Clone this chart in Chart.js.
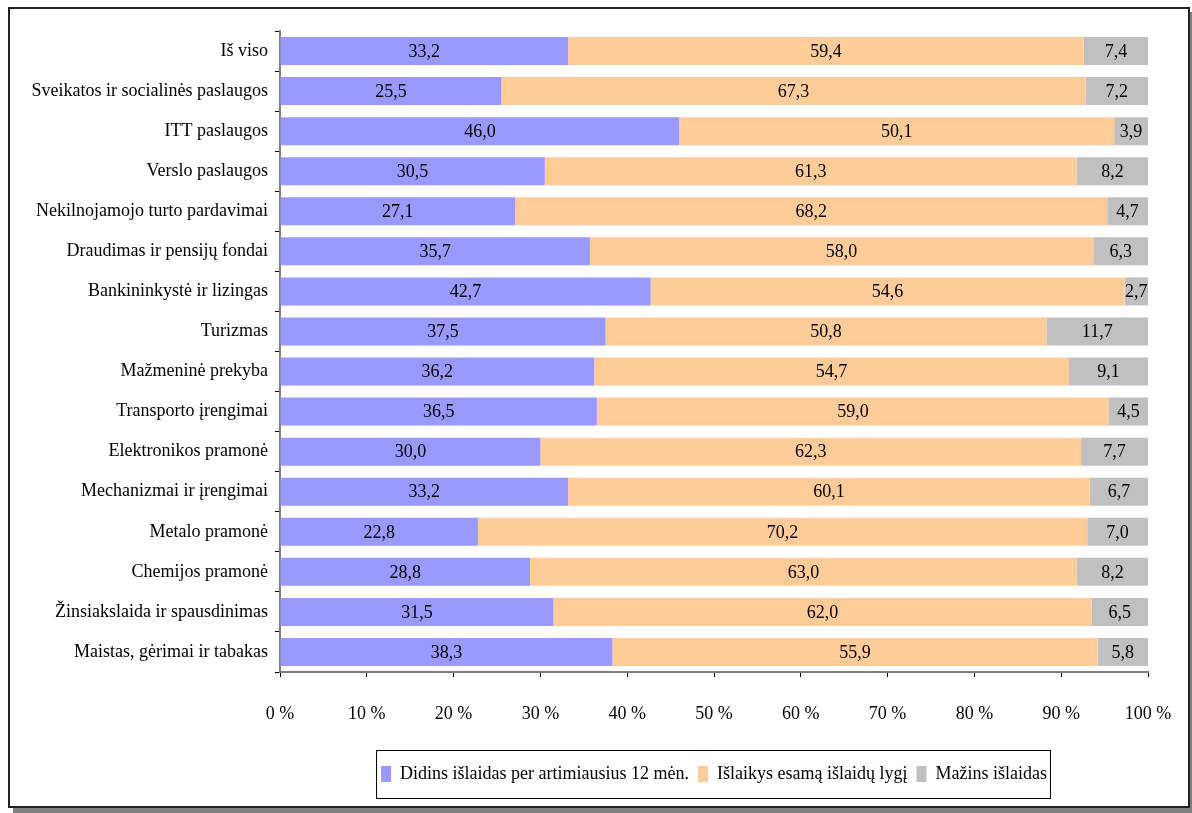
<!DOCTYPE html>
<html>
<head>
<meta charset="utf-8">
<script src="https://cdn.jsdelivr.net/npm/chart.js@4.4.0/dist/chart.umd.min.js"></script>
<style>
  body { margin: 0; background: #fff; }
  #frame {
    position: absolute; left: 8px; top: 7px; width: 1178px; height: 797px;
    border: 2px solid #222; box-shadow: 5px 5px 0 #808080; background: #fff;
  }
  #wrap { position: absolute; left: 0; top: 0; width: 1192px; height: 813px; }
</style>
</head>
<body>
<div id="frame"></div>
<div id="wrap"><canvas id="barChart"></canvas></div>
<script>
// Categories, top to bottom
var categories = [
    "Iš viso",
    "Sveikatos ir socialinės paslaugos",
    "ITT paslaugos",
    "Verslo paslaugos",
    "Nekilnojamojo turto pardavimai",
    "Draudimas ir pensijų fondai",
    "Bankininkystė ir lizingas",
    "Turizmas",
    "Mažmeninė prekyba",
    "Transporto įrengimai",
    "Elektronikos pramonė",
    "Mechanizmai ir įrengimai",
    "Metalo pramonė",
    "Chemijos pramonė",
    "Žinsiakslaida ir spausdinimas",
    "Maistas, gėrimai ir tabakas"
];

var seriesNames = [
    "Didins išlaidas per artimiausius 12 mėn.",
    "Išlaikys esamą išlaidų lygį",
    "Mažins išlaidas"
];

var increase = [33.2, 25.5, 46.0, 30.5, 27.1, 35.7, 42.7, 37.5, 36.2, 36.5, 30.0, 33.2, 22.8, 28.8, 31.5, 38.3];
var keep = [59.4, 67.3, 50.1, 61.3, 68.2, 58.0, 54.6, 50.8, 54.7, 59.0, 62.3, 60.1, 70.2, 63.0, 62.0, 55.9];
var decrease = [7.4, 7.2, 3.9, 8.2, 4.7, 6.3, 2.7, 11.7, 9.1, 4.5, 7.7, 6.7, 7.0, 8.2, 6.5, 5.8];

var xTicks = [0, 10, 20, 30, 40, 50, 60, 70, 80, 90, 100];

var colors = ["#9999FF", "#FFCC99", "#C0C0C0"];
var fontFamily = "'Liberation Serif', 'Times New Roman', serif";

// Draw the value in the middle of each segment
var valueLabels = {
    id: "valueLabels",
    afterDatasetsDraw: function (chart) {
        var ctx = chart.ctx;
        ctx.save();
        ctx.font = "18px " + fontFamily;
        ctx.fillStyle = "#000";
        ctx.textAlign = "center";
        ctx.textBaseline = "middle";
        chart.data.datasets.forEach(function (ds, i) {
            chart.getDatasetMeta(i).data.forEach(function (bar, j) {
                var txt = ds.data[j].toFixed(1).replace(".", ",");
                ctx.fillText(txt, (bar.x + bar.base) / 2, bar.y + 1);
            });
        });
        ctx.restore();
    }
};

// Border around the legend items
var legendBorder = {
    id: "legendBorder",
    afterDraw: function (chart) {
        var boxes = chart.legend.legendHitBoxes;
        if (!boxes || !boxes.length) return;
        var first = boxes[0];
        var last = boxes[boxes.length - 1];
        var ctx = chart.ctx;
        ctx.save();
        ctx.strokeStyle = "#000";
        ctx.lineWidth = 1;
        ctx.strokeRect(first.left - 4.5, first.top - 14.5, last.left + last.width - first.left + 8, first.height + 30);
        ctx.restore();
    }
};

var ctxBar = document.getElementById("barChart").getContext("2d");

var myBarChart = new Chart(ctxBar, {
    type: "bar",
    data: {
        labels: categories,
        datasets: [
            { label: seriesNames[0], data: increase, backgroundColor: colors[0] },
            { label: seriesNames[1], data: keep, backgroundColor: colors[1] },
            { label: seriesNames[2], data: decrease, backgroundColor: colors[2] }
        ]
    },
    options: {
        indexAxis: "y",
        responsive: true,
        maintainAspectRatio: false,
        animation: false,
        layout: { padding: { left: 20, right: 44, top: 31, bottom: 20 } },
        datasets: { bar: { barPercentage: 0.7, categoryPercentage: 1 } },
        scales: {
            x: {
                stacked: true,
                min: 0,
                max: 100,
                afterBuildTicks: function (scale) {
                    scale.ticks = xTicks.map(function (v) { return { value: v }; });
                },
                afterFit: function (scale) {
                    scale.height = 84;
                    scale.paddingLeft = 0;
                    scale.paddingRight = 0;
                },
                ticks: {
                    color: "#000",
                    font: { family: fontFamily, size: 18 },
                    padding: 26,
                    maxRotation: 0,
                    callback: function (v) { return v + " %"; }
                },
                grid: { drawOnChartArea: false, drawTicks: true, tickLength: 5, tickColor: "#000" },
                border: { color: "#808080", width: 2 }
            },
            y: {
                stacked: true,
                afterFit: function (scale) { scale.width = 260; },
                ticks: {
                    color: "#000",
                    font: { family: fontFamily, size: 18 },
                    padding: 7
                },
                grid: { drawOnChartArea: false, drawTicks: true, tickLength: 5, tickColor: "#000", offset: true },
                border: { color: "#808080", width: 2 }
            }
        },
        plugins: {
            tooltip: { enabled: false },
            legend: {
                position: "bottom",
                fullSize: false,
                labels: {
                    color: "#000",
                    font: { family: fontFamily, size: 18 },
                    boxWidth: 10,
                    boxHeight: 16,
                    padding: 9
                }
            }
        }
    },
    plugins: [valueLabels, legendBorder]
});
</script>
</body>
</html>
